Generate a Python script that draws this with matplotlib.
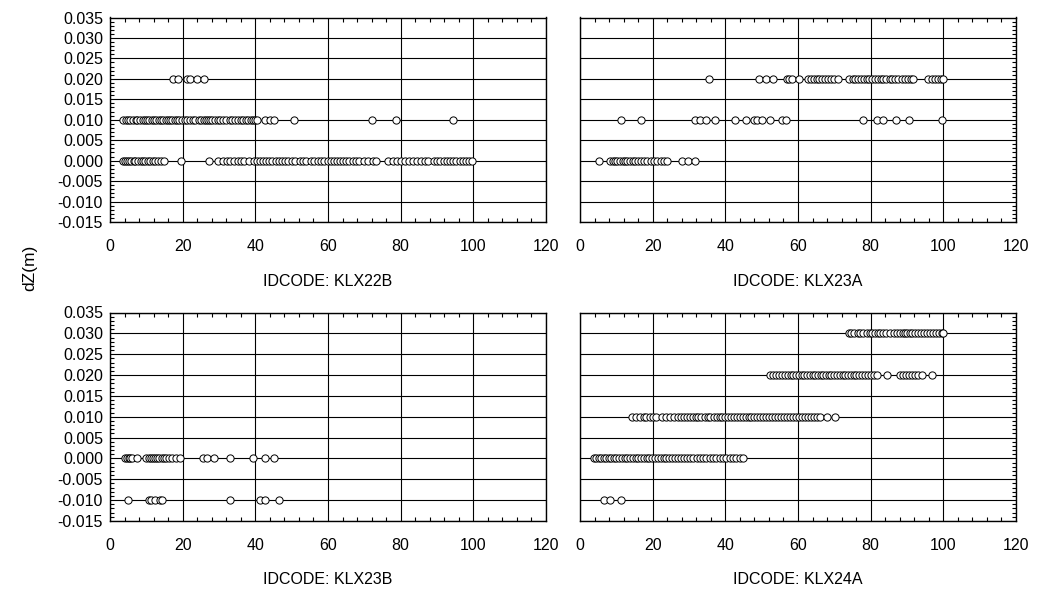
import matplotlib
matplotlib.use("Agg")
import matplotlib.pyplot as plt
from matplotlib.ticker import MultipleLocator, FormatStrFormatter

plt.rcParams['font.family'] = ['Liberation Sans', 'DejaVu Sans']

# Borehole identifiers, one panel each
boreholes = ["KLX22B", "KLX23A", "KLX23B", "KLX24A"]

# dZ levels (m) and the section positions (x) recorded at each level
klx22b_dz = [0.020, 0.010, 0.000]
klx22b_x = [
    [17.4, 18.8, 21.1, 22.0, 24.0, 25.9],
    [3.7, 4.3, 5.0, 5.6, 6.4, 7.1, 7.5, 8.2, 9.0, 9.6, 10.1, 10.7, 11.5, 12.0,
     12.6, 13.4, 14.0, 14.6, 15.3, 15.9, 16.6, 17.2, 17.8, 18.5, 19.1, 19.9,
     20.6, 21.3, 22.1, 22.8, 23.5, 24.4, 25.0, 25.8, 26.3, 26.9, 27.5, 28.2,
     28.8, 29.6, 30.3, 31.2, 32.0, 32.9, 33.6, 34.5, 35.2, 36.0, 36.7, 37.4,
     38.1, 38.8, 39.4, 40.0, 40.4, 42.7, 43.9, 45.0, 50.7, 72.2, 78.6, 94.5],
    [3.5, 4.1, 4.6, 5.2, 5.9, 6.5, 7.0, 7.8, 8.4, 9.1, 9.7, 10.4, 11.0, 11.8,
     12.5, 13.2, 14.0, 14.8, 19.6, 27.3, 29.8, 31.0, 32.2, 33.1, 34.0, 35.2,
     36.1, 37.0, 38.3, 39.5, 40.4, 41.2, 42.1, 43.0, 43.8, 44.7, 45.6, 46.4,
     47.3, 48.2, 49.0, 50.1, 51.0, 52.2, 53.1, 54.0, 55.2, 56.1, 57.3, 58.2,
     59.0, 59.9, 60.8, 61.6, 62.5, 63.3, 64.2, 65.0, 65.9, 66.8, 67.7, 68.6,
     69.8, 71.0, 72.3, 73.1, 76.5, 77.8, 79.0, 80.1, 81.3, 82.2, 83.4, 84.5,
     85.6, 86.7, 87.5, 89.2, 90.0, 90.9, 91.8, 92.7, 93.5, 94.4, 95.3, 96.2,
     97.1, 98.0, 98.8, 99.6],
]

klx23a_dz = [0.020, 0.010, 0.000]
klx23a_x = [
    [35.6, 49.4, 51.1, 53.0, 57.0, 57.6, 58.3, 60.3, 62.8, 63.6, 64.3, 65.1,
     65.9, 66.6, 67.4, 68.2, 69.0, 70.0, 71.1, 73.9, 75.0, 75.8, 76.6, 77.3,
     78.1, 78.9, 79.6, 80.4, 81.2, 82.0, 82.8, 83.5, 84.3, 85.2, 86.0, 86.8,
     87.6, 88.5, 89.4, 90.3, 91.0, 91.7, 95.9, 96.8, 97.6, 98.5, 99.3, 100.0],
    [11.3, 16.7, 31.7, 33.0, 34.7, 37.2, 42.7, 45.6, 47.9, 48.6, 50.2, 52.3,
     55.5, 56.6, 78.0, 81.7, 83.5, 86.9, 90.6, 99.7],
    [5.2, 8.3, 9.0, 9.6, 10.3, 11.0, 11.7, 12.4, 13.0, 13.8, 14.5, 15.2, 16.0,
     16.8, 17.6, 18.5, 19.5, 20.4, 21.3, 22.2, 23.1, 24.0, 28.2, 29.6, 31.7],
]

klx23b_dz = [0.000, -0.010]
klx23b_x = [
    [4.1, 4.6, 5.1, 5.6, 6.0, 7.5, 9.9, 10.6, 11.3, 11.9, 12.5, 13.0, 13.6,
     14.2, 14.8, 15.5, 16.3, 17.2, 18.2, 19.3, 25.7, 26.8, 28.6, 33.0, 39.4,
     42.7, 45.1],
    [5.0, 10.6, 11.4, 12.3, 13.8, 14.4, 33.0, 41.3, 42.6, 46.5],
]

klx24a_dz = [0.030, 0.020, 0.010, 0.000, -0.010]
klx24a_x = [
    [73.9, 74.7, 75.5, 76.4, 77.2, 78.0, 78.9, 79.7, 80.4, 81.2, 82.0, 82.6,
     83.4, 84.2, 85.3, 86.4, 87.3, 88.0, 88.8, 89.5, 90.1, 90.8, 91.5, 92.2,
     93.0, 93.8, 94.7, 95.5, 96.3, 97.1, 97.9, 98.8, 99.5, 100.0],
    [52.3, 53.1, 54.0, 54.8, 55.6, 56.5, 57.2, 58.0, 58.7, 59.5, 60.2, 61.0,
     61.7, 62.5, 63.2, 64.0, 64.7, 65.5, 66.2, 67.0, 67.7, 68.5, 69.2, 70.0,
     70.8, 71.5, 72.3, 73.0, 73.8, 74.5, 75.3, 76.0, 76.8, 77.6, 78.4, 79.2,
     80.1, 81.0, 81.7, 84.4, 88.1, 88.9, 89.7, 90.5, 91.3, 92.2, 93.1, 94.0,
     96.8],
    [14.2, 15.4, 16.6, 17.5, 18.3, 19.2, 20.1, 21.0, 22.6, 23.8, 24.7, 25.9,
     27.0, 27.8, 28.6, 29.4, 30.2, 31.0, 31.8, 32.6, 33.4, 34.3, 35.1, 35.9,
     36.8, 37.6, 38.4, 39.2, 40.0, 40.8, 41.6, 42.4, 43.2, 44.0, 44.8, 45.6,
     46.4, 47.2, 48.0, 48.8, 49.6, 50.4, 51.3, 52.1, 52.9, 53.7, 54.6, 55.4,
     56.2, 57.0, 57.9, 58.7, 59.5, 60.3, 61.1, 61.9, 62.8, 63.6, 64.4, 65.2,
     66.1, 67.9, 70.2],
    [3.8, 4.5, 5.2, 5.9, 6.5, 7.2, 7.9, 8.6, 9.3, 10.0, 10.8, 11.6, 12.3, 13.0,
     13.8, 14.5, 15.3, 16.0, 16.8, 17.6, 18.4, 19.1, 19.9, 20.6, 21.4, 22.2,
     23.0, 23.8, 24.5, 25.3, 26.1, 26.9, 27.7, 28.6, 29.4, 30.3, 31.2, 32.1,
     33.0, 33.9, 34.8, 35.7, 36.6, 37.5, 38.4, 39.3, 40.2, 41.2, 42.1, 43.0,
     44.0, 44.9],
    [6.6, 8.3, 11.3],
]

panel_data = [
    (klx22b_dz, klx22b_x),
    (klx23a_dz, klx23a_x),
    (klx23b_dz, klx23b_x),
    (klx24a_dz, klx24a_x),
]

x_ticks = [0, 20, 40, 60, 80, 100, 120]
y_ticks = [0.035, 0.030, 0.025, 0.020, 0.015, 0.010, 0.005, 0.000,
           -0.005, -0.010, -0.015]

W, H = 1037, 594
fig = plt.figure(figsize=(W / 100, H / 100), dpi=100)

# axes boxes in pixels: (left, top, right, bottom)
boxes = [
    (110, 17.5, 546, 222),
    (580, 17.5, 1016, 222),
    (110, 312.5, 546, 521),
    (580, 312.5, 1016, 521),
]

for i, ((dz, xs), name, (l, t, r, b)) in enumerate(zip(panel_data, boreholes, boxes)):
    ax = fig.add_axes([l / W, 1 - b / H, (r - l) / W, (b - t) / H])
    ax.set_xlim(0, 120)
    ax.set_ylim(min(y_ticks), max(y_ticks))
    ax.set_xticks(x_ticks)
    ax.set_yticks(y_ticks)
    ax.xaxis.set_minor_locator(MultipleLocator(4))
    ax.yaxis.set_minor_locator(MultipleLocator(0.001))
    ax.yaxis.set_major_formatter(FormatStrFormatter('%.3f'))
    ax.grid(True, which='major', color='black', linewidth=0.8)
    ax.set_axisbelow(True)

    left_col = (i % 2 == 0)
    ax.tick_params(which='both', direction='in', top=True, bottom=True,
                   left=left_col, right=not left_col,
                   labelleft=left_col, labelright=False,
                   labelsize=11.5, colors='black', width=0.8)
    ax.tick_params(which='major', length=0)
    ax.tick_params(axis='y', which='major', pad=5)
    ax.tick_params(axis='x', which='major', pad=12)
    ax.tick_params(which='minor', length=3)
    for s in ax.spines.values():
        s.set_linewidth(1.0)
        s.set_color('black')

    for level, row in zip(dz, xs):
        ax.plot(row, [level] * len(row), linestyle='none', marker='o',
                markersize=5.2, markerfacecolor='white',
                markeredgecolor='black', markeredgewidth=0.7, zorder=3)

    fig.text((l + r) / 2 / W, 1 - (b + 59) / H, "IDCODE: " + name,
             ha='center', va='center', fontsize=11.5)

fig.text(30 / W, 1 - 268 / H, "dZ(m)", rotation=90, ha='center', va='center',
         fontsize=12.5)

fig.savefig("out.png", dpi=100)
